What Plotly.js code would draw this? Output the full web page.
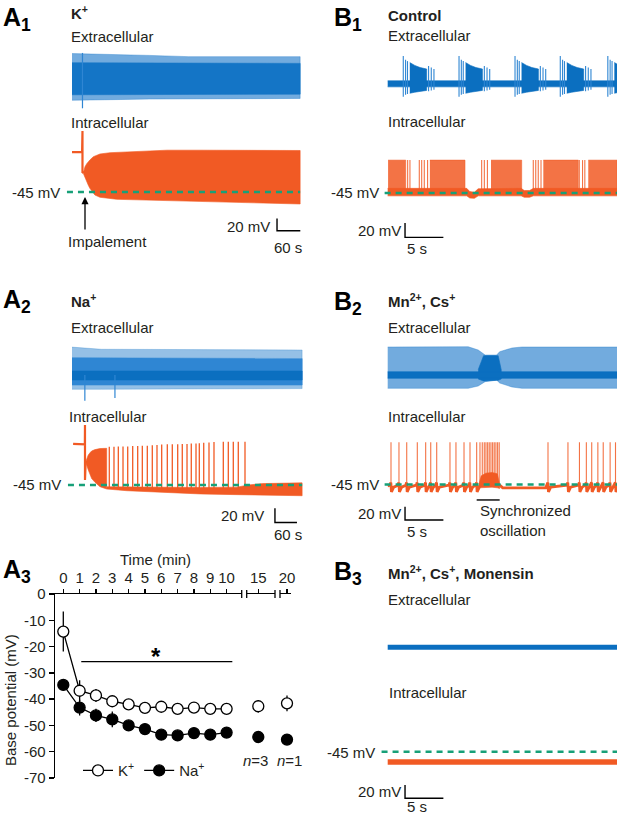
<!DOCTYPE html>
<html><head><meta charset="utf-8">
<script src="https://cdn.plot.ly/plotly-3.0.1.min.js"></script>
<style>html,body{margin:0;padding:0;background:#fff}#chart{width:617px;height:816px}</style>
</head><body><div id="chart"></div>
<script>
// ================= DATA =================
// ---- A3: base potential vs time ----
const timeMain = [0,1,2,3,4,5,6,7,8,9,10];
const kMain    = [-14.3,-36.8,-38.6,-40.8,-42.0,-43.3,-42.9,-43.7,-43.2,-43.7,-43.7];
const kMainErr = [7.6,4,2.5,1.5,1,0.8,0.8,0.8,0.8,0.8,0.8];
const naMain   = [-34.6,-43.2,-46.2,-47.7,-50.0,-51.4,-53.5,-53.8,-52.9,-53.5,-52.7];
const naMainErr= [1.2,3,2.5,3,1.5,1.5,1,1,1,1,1];
const timeLate = [15,20];
const kLate    = [-42.7,-41.6];
const kLateErr = [2.4,3];
const naLate   = [-54.4,-55.4];
const naLateErr= [0.8,0.8];
const nLabels  = ['<i>n</i>=3','<i>n</i>=1'];
const sigSpan  = [1.1,10.35];
const sigLevel = -25.7;
const yTicks   = [0,-10,-20,-30,-40,-50,-60,-70];

// ---- common ----
const restLevel = -45;        // mV, dashed reference line
const scaleV = 20;            // mV scale bars
const scaleTA = 60;           // s (A panels)
const scaleTB = 5;            // s (B panels)

// ---- A1 (K+) ----
const a1ExtT        = [0,100,200,300,400,500,588];
const a1ExtOuterTop = [43,42,40,38,38,38,38];
const a1ExtOuterBot = [-33,-32,-31,-31,-30,-30,-30];
const a1ExtCoreTop  = [28,28,27,27,27,27,27];
const a1ExtCoreBot  = [-24,-24,-23,-23,-23,-23,-23];
const a1ArtT = [27], a1ArtLo = [-46], a1ArtHi = [44];
const a1OnsetT = [0,26,27,27,27.5,29];
const a1OnsetV = [20,20,54,-14,-12,-14.5];
const a1EnvT   = [29,33.5,38,42,46,55,59,72,98,115,157,245,330,460,588];
const a1EnvTop = [-14.5,-3.9,1,4.3,7,12.4,13.5,16.8,18.9,19.5,20.5,23,23,23,22.5];
const a1EnvBot = [-14.5,-22,-28.3,-34,-39,-47,-49.9,-53.6,-55.5,-56.9,-58,-59.5,-60.8,-62.5,-64.5];
const a1RestT  = [-13,588];

// ---- A2 (Na+) ----
const a2ExtT        = [0,80,627];
const a2ExtOuterTop = [39,36,35];
const a2ExtOuterBot = [-20,-20,-19];
const a2ExtMidTop   = [24,24,23];
const a2ExtMidBot   = [-14,-14,-14];
const a2ExtCoreTop  = [5.6,5.6,5.6];
const a2ExtCoreBot  = [-7,-7,-7];
const a2ExtDownT = [35,117], a2ExtDownV = [-36,-32];
const a2OnsetT = [3,30,35,35.4,35.4,37.3];
const a2OnsetV = [12.5,12,12,39,-38,-12.4];
const a2DenseT   = [37.3,44.4,49,53.6,62.7,67.3,76.3,94.5];
const a2DenseTop = [-12.4,-3,0,2.6,4.5,5.3,6,6.3];
const a2DenseBot = [-12.4,-24,-31,-36,-41.2,-43.5,-47.4,-50.6];
const a2BaseT   = [94.5,150,253,350,450,480,520,627];
const a2BaseTop = [-47.5,-47.8,-48.2,-48.5,-48,-45,-43,-42];
const a2BaseBot = [-50.6,-53,-55.5,-57.5,-58.5,-59,-59.5,-60];
const a2SpikeT = [101.6,114.4,126.2,139,151.8,165.4,179,191.6,205.2,218.8,231.6,244.4,259.7,273.3,288,300.5,313.4,325,337.9,346.9,358.9,373.3,386.9,412.3,425.9,439.5,453.1,471.4];
const a2SpikePeak = [8.5,8.5,9,9,9,9.5,9.5,10,10,10.5,11,11.5,12,12,12,12.5,12.5,13,13,13.5,14,14.5,15,15.5,15.5,15.5,15.5,15.5];
const a2RestT = [-11,627];

// ---- B1 (Control) ----
const b1ExtBaseT = [0,30], b1ExtBaseTop = [4.5,4.5], b1ExtBaseBot = [-4,-4];
const b1BurstStart = [2.03,9.3,16.6,22.5,28.7];
const b1BurstRelT   = [0.85,1.5,2.2,3.05];
const b1BurstTop    = [30,26,23,21];
const b1BurstBot    = [-13,-11.5,-10,-9];
const b1LeadRelT    = [0,0.3,0.55];
const b1LeadPeak    = [39,34,32];
const b1LeadTrough  = [-18,-15,-14];
const b1TailRelT    = [3.3,3.65,4.0];
const b1TailPeak    = [25,23,21];
const b1TailTrough  = [-10,-9,-8];
const b1BaseT   = [0,10.3,10.7,11.3,11.8,17.4,17.8,18.5,19,30];
const b1BaseTop = [-38.5,-38.5,-43,-44,-39,-38.5,-41.5,-41.5,-38.5,-38.5];
const b1BaseBot = [-49,-49,-52,-52.5,-49,-49,-51,-51,-49,-49];
const b1DenseStart = [0.05,5.5,13.47,20.29,26.15];
const b1DenseEnd   = [2.35,10.08,17.47,24.85,29.9];
const b1SparseT = [2.6,2.9,4.12,4.43,4.77,5.2,12.25,12.6,13.0,18.98,19.3,19.63,19.99,24.98,25.4,25.7];
const b1SpikePeak = 1;
const b1RestT = [-0.4,30];

// ---- B2 (Mn2+, Cs+) ----
const b2ExtT   = [0,10.5,11.8,12.7,14.2,14.6,16.2,17.5,30];
const b2ExtTop = [42,42.4,37.5,30,30,35,40.5,42,42];
const b2ExtBot = [-20,-20,-16.5,-10,-7.5,-12,-18,-20,-20];
const b2ExtCoreT = [0,30], b2ExtCoreTop = [4.9,4.9], b2ExtCoreBot = [-4.9,-4.9];
const b2SyncCoreT   = [11.8,12.5,14.4,14.8];
const b2SyncCoreTop = [8,29,29,8];
const b2SyncCoreBot = [-6,-9,-8,-6];
const b2SpikeT = [0.43,1.47,2.48,3.86,4.95,5.61,6.39,8.12,8.9,9.95,10.73,11.6,12.03,12.33,12.59,12.81,13.03,13.24,13.46,13.68,13.89,14.11,14.33,14.54,20.9,23.5,25.0,25.9,26.6,27.4,28.1,29.0,29.7];
const b2SpikePeak = 18.3;
const b2SyncSpan = [11.6,14.6];
const b2HumpT   = [11.9,12.2,12.8,13.6,14.3,14.6];
const b2HumpTop = [-44,-32,-28,-27,-29,-45];
const b2HumpBot = [-50,-50,-49,-49,-50,-51];
const b2QuietT = [14.6,15,20.6], b2QuietV = [-46,-50,-50];
const b2RestT = [-0.4,30];

// ---- B3 (Mn2+, Cs+, Monensin) ----
const b3T = [0,30], b3ExtV = [0,0], b3IntV = [-60.5,-60.5];
const b3RestT = [-0.8,30];

// ================= DRAWING =================
const W = 617, H = 816;
const FONT = 'Liberation Sans, Arial, Helvetica, sans-serif';
const TXT = '#231f20';
const ORANGE = '#f15a24', ORANGE_L = 'rgba(241,90,36,0.85)';
const BLUE = '#0b6fc0', BLUE_M = '#2f86d3', BLUE_L = 'rgba(20,115,200,0.6)';
const GREEN = '#17a078';
const P = v => v / W, Q = v => 1 - v / H;

const layout = {
  width: W, height: H, margin: {l:0,r:0,t:0,b:0},
  paper_bgcolor: '#fff', plot_bgcolor: 'rgba(0,0,0,0)',
  font: {family: FONT, size: 15, color: TXT},
  showlegend: true, hovermode: false,
  annotations: [], shapes: []
};
const data = [];

function panel(n, pxL, pxR, t0, pps, pyT, pyB, refPy, refV, k) {
  layout['xaxis'+n] = {domain:[P(pxL),P(pxR)], range:[(pxL-t0)/pps,(pxR-t0)/pps], visible:false, anchor:'y'+n, fixedrange:true};
  layout['yaxis'+n] = {domain:[Q(pyB),Q(pyT)], range:[refV-(pyB-refPy)/k, refV+(refPy-pyT)/k], visible:false, anchor:'x'+n, fixedrange:true};
  return {xaxis:'x'+n, yaxis:'y'+n};
}
function band(ax, t, top, bot, color) {
  data.push(Object.assign({type:'scatter', mode:'lines', x:t.concat(t.slice().reverse()),
    y:top.concat(bot.slice().reverse()), fill:'toself', fillcolor:color,
    line:{width:0.6,color:color}, hoverinfo:'skip', showlegend:false}, ax));
}
function line(ax, x, y, color, width, dash) {
  data.push(Object.assign({type:'scatter', mode:'lines', x:x, y:y,
    line:{color:color, width:width, dash:dash||'solid'}, hoverinfo:'skip', showlegend:false, connectgaps:false}, ax));
}
function spikes(ax, ts, lo, hi, color, width) {
  const x = [], y = [];
  ts.forEach((t,i) => { x.push(t,t,null); y.push(Array.isArray(lo)?lo[i]:lo, Array.isArray(hi)?hi[i]:hi, null); });
  line(ax, x, y, color, width);
}
function rest(ax, t) { line(ax, t, t.map(()=>restLevel), GREEN, 2.6, '6px,5px'); }
function scaleBar(ax, t, v, dt) { line(ax, [t,t,t+dt], [v+scaleV,v,v], '#000', 1.4); }
function ann(text, x, y, o) {
  layout.annotations.push(Object.assign({text:text, x:P(x), y:Q(y), xref:'paper', yref:'paper',
    xanchor:'left', yanchor:'middle', showarrow:false, font:{family:FONT, size:15, color:TXT}}, o||{}));
}

// ---- A1 ----
const A1e = panel(4, 66, 302, 72, 0.388, 45, 115, 80, 0, 0.615);
band(A1e, a1ExtT, a1ExtOuterTop, a1ExtOuterBot, BLUE_L);
band(A1e, a1ExtT, a1ExtCoreTop, a1ExtCoreBot, '#1475c6');
spikes(A1e, a1ArtT, a1ArtLo, a1ArtHi, BLUE_M, 1.2);
const A1i = panel(5, 60, 305, 72, 0.388, 115, 238, 192, -45, 0.615);
line(A1i, a1OnsetT, a1OnsetV, ORANGE, 2.2);
band(A1i, a1EnvT, a1EnvTop, a1EnvBot, ORANGE);
rest(A1i, a1RestT);
scaleBar(A1i, 528.4, -107.9, scaleTA);

// ---- A2 ----
const A2e = panel(6, 66, 304, 72, 0.367, 340, 408, 375, 0, 0.715);
band(A2e, a2ExtT, a2ExtOuterTop, a2ExtOuterBot, 'rgba(20,115,200,0.45)');
band(A2e, a2ExtT, a2ExtMidTop, a2ExtMidBot, BLUE_M);
band(A2e, a2ExtT, a2ExtCoreTop, a2ExtCoreBot, BLUE);
spikes(A2e, a2ExtDownT, 0, a2ExtDownV, BLUE_M, 1.2);
const A2i = panel(7, 60, 305, 72, 0.367, 415, 530, 485, -45, 0.715);
line(A2i, a2OnsetT, a2OnsetV, ORANGE, 2.2);
band(A2i, a2DenseT, a2DenseTop, a2DenseBot, ORANGE);
band(A2i, a2BaseT, a2BaseTop, a2BaseBot, ORANGE);
spikes(A2i, a2SpikeT, -50, a2SpikePeak, ORANGE, 1.3);
rest(A2i, a2RestT);
scaleBar(A2i, 553, -97.4, scaleTA);

// ---- B1 ----
const B1e = panel(8, 380, 617, 387.7, 7.67, 48, 105, 84, 0, 0.715);
band(B1e, b1ExtBaseT, b1ExtBaseTop, b1ExtBaseBot, BLUE);
b1BurstStart.forEach(s => {
  band(B1e, b1BurstRelT.map(r=>s+r), b1BurstTop, b1BurstBot, BLUE);
  spikes(B1e, b1LeadRelT.map(r=>s+r), b1LeadTrough, b1LeadPeak, BLUE_M, 1.1);
  spikes(B1e, b1TailRelT.map(r=>s+r), b1TailTrough, b1TailPeak, BLUE_M, 1.1);
});
const B1i = panel(9, 380, 617, 387.7, 7.67, 150, 242, 193, -45, 0.715);
b1DenseStart.forEach((s,i) => band(B1i, [s, b1DenseEnd[i]], [b1SpikePeak,b1SpikePeak], [-42,-42], ORANGE_L));
spikes(B1i, b1SparseT, -42, b1SpikePeak, ORANGE_L, 1.1);
band(B1i, b1BaseT, b1BaseTop, b1BaseBot, ORANGE);
rest(B1i, b1RestT);
scaleBar(B1i, 2.26, -107, scaleTB);

// ---- B2 ----
const B2e = panel(10, 380, 617, 387.7, 7.67, 335, 395, 375, 0, 0.667);
band(B2e, b2ExtT, b2ExtTop, b2ExtBot, BLUE_L);
band(B2e, b2SyncCoreT, b2SyncCoreTop, b2SyncCoreBot, BLUE);
band(B2e, b2ExtCoreT, b2ExtCoreTop, b2ExtCoreBot, BLUE);
const B2i = panel(11, 380, 617, 387.7, 7.67, 435, 525, 484.5, -45, 0.667);
spikes(B2i, b2SpikeT, -44, b2SpikePeak, ORANGE_L, 1.1);
band(B2i, b2HumpT, b2HumpTop, b2HumpBot, ORANGE);
(function(){
  const bx = [0], by = [-47];
  const ahp = s => { bx.push(s-0.12, s-0.02, s+0.06, s+0.35); by.push(-46,-42,-56,-49); };
  b2SpikeT.filter(t => t < b2HumpT[0]).forEach(ahp);
  bx.push(b2HumpT[0]); by.push(-46);
  bx.push(null); by.push(null);
  b2QuietT.forEach((t,i)=>{ bx.push(t); by.push(b2QuietV[i]); });
  b2SpikeT.filter(t => t > b2QuietT[b2QuietT.length-1]).forEach(ahp);
  bx.push(30); by.push(-47);
  line(B2i, bx, by, ORANGE, 2.8);
})();
rest(B2i, b2RestT);
scaleBar(B2i, 2.26, -98.2, scaleTB);
line(B2i, b2SyncSpan, [-68.2,-68.2], '#000', 1.4);

// ---- B3 ----
const B3e = panel(12, 380, 617, 387.7, 7.67, 630, 665, 647.3, 0, 0.667);
line(B3e, b3T, b3ExtV, BLUE, 5);
const B3i = panel(13, 375, 617, 387.7, 7.67, 740, 802, 751.7, -45, 0.667);
line(B3i, b3T, b3IntV, ORANGE, 5.5);
rest(B3i, b3RestT);
scaleBar(B3i, 2.26, -114.9, scaleTB);

// ---- A3 plot ----
const ax0 = 55, px0 = 63.3, ppm = 16.33;
layout.yaxis = {domain:[Q(778),Q(594)], range:[-70,0], anchor:'x', showline:true, linecolor:'#000', linewidth:1.3,
  ticks:'outside', ticklen:5, tickwidth:1.3, tickcolor:'#000', tickvals:yTicks, ticktext:yTicks.map(String),
  showgrid:false, zeroline:false, tickfont:{size:15,family:FONT,color:TXT}, fixedrange:true};
const xCommon = {anchor:'y', side:'top', showline:true, linecolor:'#000', linewidth:1.3, ticks:'outside', ticklen:4,
  tickwidth:1.3, tickcolor:'#000', showgrid:false, zeroline:false, tickfont:{size:15,family:FONT,color:TXT}, fixedrange:true};
layout.xaxis  = Object.assign({domain:[P(ax0),P(241.7)], range:[(ax0-px0)/ppm, (241.7-px0)/ppm], tickvals:timeMain}, xCommon);
layout.xaxis2 = Object.assign({domain:[P(246.7),P(275)], range:[15-(258.3-246.7)/ppm, 15+(275-258.3)/ppm], tickvals:[timeLate[0]]}, xCommon);
layout.xaxis3 = Object.assign({domain:[P(280),P(291)], range:[20-(287-280)/ppm, 20+(291-287)/ppm], tickvals:[timeLate[1]]}, xCommon);

const errStyle = arr => ({type:'data', array:arr, visible:true, color:'#000', thickness:1.3, width:0});
const kMarker = {symbol:'circle', size:11, color:'#fff', line:{color:'#000', width:1.3}};
const naMarker = {symbol:'circle', size:11, color:'#000', line:{color:'#000', width:1.3}};
line({xaxis:'x', yaxis:'y'}, sigSpan, [sigLevel, sigLevel], '#000', 1.3);
data.push({type:'scatter', mode:'lines+markers', name:'Na<sup>+</sup>', x:timeMain, y:naMain, error_y:errStyle(naMainErr),
  line:{color:'#000', width:1.3}, marker:naMarker, xaxis:'x', yaxis:'y', cliponaxis:false, legendrank:2});
data.push({type:'scatter', mode:'lines+markers', name:'K<sup>+</sup>', x:timeMain, y:kMain, error_y:errStyle(kMainErr),
  line:{color:'#000', width:1.3}, marker:kMarker, xaxis:'x', yaxis:'y', cliponaxis:false, legendrank:1});
['x2','x3'].forEach((xa,i) => {
  data.push({type:'scatter', mode:'markers', x:[timeLate[i]], y:[naLate[i]], error_y:errStyle([naLateErr[i]]),
    marker:naMarker, xaxis:xa, yaxis:'y', cliponaxis:false, showlegend:false});
  data.push({type:'scatter', mode:'markers', x:[timeLate[i]], y:[kLate[i]], error_y:errStyle([kLateErr[i]]),
    marker:kMarker, xaxis:xa, yaxis:'y', cliponaxis:false, showlegend:false});
  layout.annotations.push({text:nLabels[i], xref:xa, x:timeLate[i], yref:'paper', y:Q(760), xanchor:'center', yanchor:'middle',
    showarrow:false, xshift:(i===0?-3:2), font:{family:FONT, size:15, color:TXT}});
});
// axis break marks
[241.7, 246.7, 275, 280].forEach(x => layout.shapes.push({type:'line', xref:'paper', yref:'paper',
  x0:P(x), x1:P(x), y0:Q(590), y1:Q(598), line:{color:'#000', width:1.3}}));
layout.legend = {orientation:'h', x:P(78), y:Q(770.7), xanchor:'left', yanchor:'middle', bgcolor:'rgba(0,0,0,0)',
  font:{size:15, family:FONT, color:TXT}, itemwidth:30, traceorder:'normal'};

// ---- texts ----
const big = {size:25, family:FONT, color:'#000'};
const bigO = {font:big, yanchor:'top'};
ann('<b>A<sub>1</sub></b>', 1, 1, bigO);
ann('<b>A<sub>2</sub></b>', 1, 283, bigO);
ann('<b>A<sub>3</sub></b>', 1, 553, bigO);
ann('<b>B<sub>1</sub></b>', 332, 1, bigO);
ann('<b>B<sub>2</sub></b>', 332, 285, bigO);
ann('<b>B<sub>3</sub></b>', 332, 555, bigO);
ann('<b>K<sup>+</sup></b>', 69, 13);
ann('<b>Na<sup>+</sup></b>', 69, 300);
ann('<b>Control</b>', 386, 15);
ann('<b>Mn<sup>2+</sup>, Cs<sup>+</sup></b>', 386, 300);
ann('<b>Mn<sup>2+</sup>, Cs<sup>+</sup>, Monensin</b>', 386, 572);
[[69,37],[69,327],[386,36],[386,327],[386,599]].forEach(p => ann('Extracellular', p[0], p[1]));
[[69,122],[67,416],[386,121],[386,417],[387,692]].forEach(p => ann('Intracellular', p[0], p[1]));
[[62,192],[63,484],[381,192],[381,484],[377,752]].forEach(p => ann('-45 mV', p[0], p[1], {xanchor:'right'}));
[[272,226],[266,515],[403,230],[403,513],[403,791]].forEach(p => ann('20 mV', p[0], p[1], {xanchor:'right'}));
ann('60 s', 288, 247, {xanchor:'center'});
ann('60 s', 288, 534, {xanchor:'center'});
[[417,248],[417,531],[417,806]].forEach(p => ann('5 s', p[0], p[1], {xanchor:'center'}));
ann('Impalement', 66, 241);
layout.annotations.push({text:'', x:P(85), y:Q(197), xref:'paper', yref:'paper', showarrow:true, ax:0, ay:34,
  arrowhead:2, arrowsize:1.1, arrowwidth:1.3, arrowcolor:'#000'});
ann('Synchronized<br>oscillation', 478, 520, {align:'left'});
ann('Time (min)', 155, 559, {xanchor:'center'});
ann('Base potential (mV)', 10, 700, {xanchor:'center', textangle:-90});
ann('<b>*</b>', 156, 656, {xanchor:'center', font:{size:24, family:FONT, color:'#000'}});

Plotly.newPlot('chart', data, layout, {staticPlot:true, displayModeBar:false});
</script>
</body></html>
